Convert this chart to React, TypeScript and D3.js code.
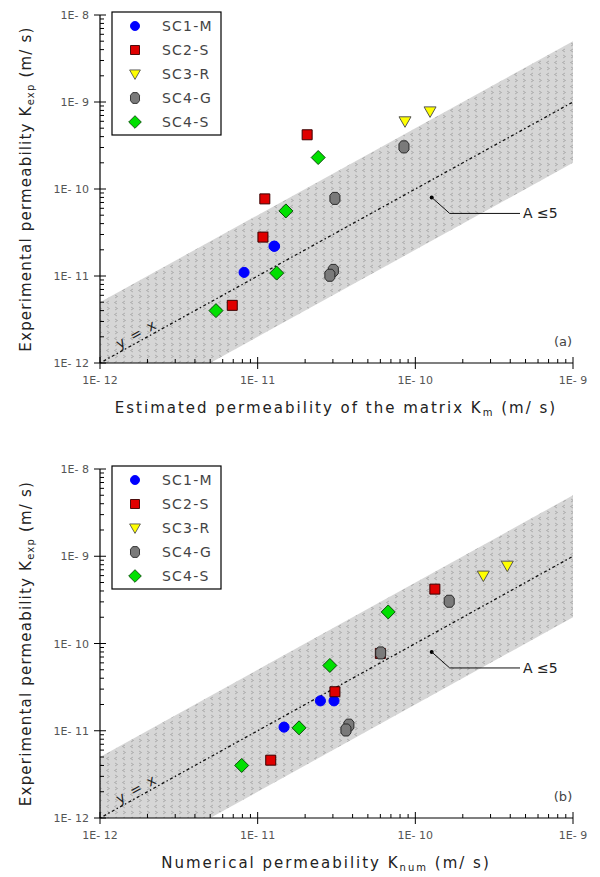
import React from "react";
import * as d3 from "d3";

const seriesNames = ["SC1-M", "SC2-S", "SC3-R", "SC4-G", "SC4-S"];
const seriesFill = ["#0000ff", "#e00000", "#ffff00", "#7a7a7a", "#00e000"];
const seriesStroke = ["#0000ff", "#3a0000", "#555555", "#2a2a2a", "#0a4a0a"];

// experimental K (same in both panels), matrix estimate (a), numerical (b)
const sc1mExp = [2.2e-11, 2.2e-11, 1.1e-11];
const sc1mMat = [1.27e-11, 1.28e-11, 8.2e-12];
const sc1mNum = [2.5e-11, 3.05e-11, 1.47e-11];

const sc2sExp = [4.2e-10, 7.7e-11, 2.8e-11, 4.6e-12];
const sc2sMat = [2.06e-11, 1.11e-11, 1.08e-11, 6.9e-12];
const sc2sNum = [1.33e-10, 6.0e-11, 3.09e-11, 1.21e-11];

const sc3rExp = [6.0e-10, 7.8e-10];
const sc3rMat = [8.6e-11, 1.24e-10];
const sc3rNum = [2.7e-10, 3.83e-10];

const sc4gExp = [3.05e-10, 7.8e-11, 1.16e-11, 1.02e-11];
const sc4gMat = [8.47e-11, 3.09e-11, 3.02e-11, 2.87e-11];
const sc4gNum = [1.64e-10, 6.03e-11, 3.79e-11, 3.63e-11];

const sc4sExp = [2.3e-10, 5.6e-11, 1.08e-11, 4.0e-12];
const sc4sMat = [2.42e-11, 1.51e-11, 1.32e-11, 5.44e-12];
const sc4sNum = [6.73e-11, 2.87e-11, 1.83e-11, 7.92e-12];

const expAll = [sc1mExp, sc2sExp, sc3rExp, sc4gExp, sc4sExp];
const matAll = [sc1mMat, sc2sMat, sc3rMat, sc4gMat, sc4sMat];
const numAll = [sc1mNum, sc2sNum, sc3rNum, sc4gNum, sc4sNum];

const xTickLabels = ["1E- 12", "1E- 11", "1E- 10", "1E- 9"];
const yTickLabels = ["1E- 12", "1E- 11", "1E- 10", "1E- 9", "1E- 8"];

const bandFactor = 5; // A <= 5
const annotPoint = [1.27e-10, 8.0e-11];

const FONT = "'DejaVu Sans', Verdana, sans-serif";

const markerPath = (i: number) => {
  if (i === 0) return d3.symbol(d3.symbolCircle, 80)();
  if (i === 1) return d3.symbol(d3.symbolSquare, 100)();
  if (i === 2) return "M-6,-4.5L6,-4.5L0,6Z";
  if (i === 3) return "M-2.5,-6L2.5,-6L5,-3L5,3L2.5,6L-2.5,6L-5,3L-5,-3Z";
  return "M0,-7L7,0L0,7L-7,0Z";
};

function Panel({ yTop, yBottom, xVals, title, sub, letter, titleX }) {
  const x = d3.scaleLog().domain([1e-12, 1e-9]).range([100, 573]);
  const y = d3.scaleLog().domain([1e-12, 1e-8]).range([yBottom, yTop]);
  const clipId = "clip" + letter;

  const line = d3
    .line<number>()
    .x((d) => x(d))
    .y((d) => y(d));
  const area = d3
    .area<number>()
    .x((d) => x(d))
    .y0((d) => y(d / bandFactor))
    .y1((d) => y(d * bandFactor));
  const ends = x.domain();

  const xTicks = x.ticks();
  const yTicks = y.ticks();
  const isMajor = (v: number) => Math.abs(Math.log10(v) - Math.round(Math.log10(v))) < 1e-6;

  const angle = (Math.atan2(y(1e-9) - y(1e-12), x(1e-9) - x(1e-12)) * 180) / Math.PI;
  const lblX = x(1.8e-12);
  const lblY = y(1.8e-12);

  const ax = x(annotPoint[0]);
  const ay = y(annotPoint[1]);

  return (
    <g fontFamily={FONT}>
      <defs>
        <clipPath id={clipId}>
          <rect x={100} y={yTop - 30} width={473} height={yBottom - yTop + 30} />
        </clipPath>
      </defs>

      <g clipPath={`url(#${clipId})`}>
        <path d={area(ends)} fill="url(#chev)" />
        <path
          d={line(ends)}
          fill="none"
          stroke="#111"
          strokeWidth={1.3}
          strokeDasharray="1.5,2.5,3,2.5"
        />
      </g>

      <text
        transform={`translate(${lblX},${lblY}) rotate(${angle})`}
        textAnchor="middle"
        dy={-3}
        fontSize={14}
        fill="#222"
        letterSpacing={1.5}
      >
        y = x
      </text>

      {/* annotation */}
      <circle cx={ax} cy={ay} r={2} fill="#000" />
      <path
        d={`M${ax},${ay}L${ax + 18},${ay + 16}L520,${ay + 16}`}
        fill="none"
        stroke="#111"
        strokeWidth={1}
      />
      <text x={523} y={ay + 21} fontSize={14} fill="#222">
        A ≤5
      </text>

      {/* data */}
      {seriesNames.map((s, i) =>
        expAll[i].map((v, j) => (
          <path
            key={s + j}
            d={markerPath(i)}
            transform={`translate(${x(xVals[i][j])},${y(v)})`}
            fill={seriesFill[i]}
            stroke={seriesStroke[i]}
            strokeWidth={1}
          />
        ))
      )}

      {/* axes */}
      <line x1={100} x2={100} y1={yTop} y2={yBottom} stroke="#000" strokeWidth={1.2} />
      <line x1={100} x2={573} y1={yBottom} y2={yBottom} stroke="#000" strokeWidth={1.2} />
      {yTicks.map((t, i) =>
        isMajor(t) ? (
          <line key={"y" + i} x1={94} x2={106} y1={y(t)} y2={y(t)} stroke="#000" />
        ) : (
          <line key={"y" + i} x1={100} x2={104} y1={y(t)} y2={y(t)} stroke="#000" />
        )
      )}
      {xTicks.map((t, i) =>
        isMajor(t) ? (
          <line key={"x" + i} x1={x(t)} x2={x(t)} y1={yBottom - 6} y2={yBottom + 6} stroke="#000" />
        ) : (
          <line key={"x" + i} x1={x(t)} x2={x(t)} y1={yBottom} y2={yBottom - 4} stroke="#000" />
        )
      )}
      {yTicks.filter(isMajor).map((t, i) => (
        <text key={"yl" + i} x={89} y={y(t) + 4} textAnchor="end" fontSize={11} fill="#555">
          {yTickLabels[i]}
        </text>
      ))}
      {xTicks.filter(isMajor).map((t, i) => (
        <text key={"xl" + i} x={x(t)} y={yBottom + 21} textAnchor="middle" fontSize={11} fill="#555">
          {xTickLabels[i]}
        </text>
      ))}

      {/* axis titles */}
      <text
        transform={`translate(31,${(yTop + yBottom) / 2}) rotate(-90)`}
        textAnchor="middle"
        fontSize={15}
        fill="#222"
        letterSpacing={1.2}
      >
        Experimental permeability K
        <tspan fontSize={10} dy={3}>exp</tspan>
        <tspan dy={-3}> (m/ s)</tspan>
      </text>
      <text x={titleX} y={yBottom + 50} textAnchor="middle" fontSize={15} fill="#222" letterSpacing={2}>
        {title}
        <tspan fontSize={10} dy={3}>{sub}</tspan>
        <tspan dy={-3}> (m/ s)</tspan>
      </text>

      <text x={563} y={yBottom - 17} textAnchor="middle" fontSize={13} fill="#444">
        ({letter})
      </text>

      {/* legend */}
      <rect x={112} y={yTop - 3} width={109} height={123} fill="#fff" stroke="#000" strokeWidth={1.2} />
      {seriesNames.map((s, i) => (
        <g key={s} transform={`translate(0,${yTop + 11 + i * 24})`}>
          <path
            d={markerPath(i)}
            transform="translate(135,0) scale(0.9)"
            fill={seriesFill[i]}
            stroke={seriesStroke[i]}
            strokeWidth={1}
          />
          <text x={162} y={5} fontSize={14} fill="#444" letterSpacing={1.2}>
            {s}
          </text>
        </g>
      ))}
    </g>
  );
}

export default function App() {
  return (
    <svg
      width={600}
      height={877}
      style={{ position: "absolute", left: 0, top: 0, background: "#fff" }}
    >
      <defs>
        <pattern id="chev" width={8} height={12} patternUnits="userSpaceOnUse">
          <rect width={8} height={12} fill="#d6d6d6" />
          <path d="M5,1L2.5,2.5L5,4M3,7L5.5,8.5L3,10" fill="none" stroke="#9a9a9a" strokeWidth={0.7} />
        </pattern>
      </defs>
      <rect width={600} height={877} fill="#fff" />
      <Panel
        yTop={15}
        yBottom={363}
        xVals={matAll}
        title="Estimated permeability of the matrix K"
        sub="m"
        letter="a"
        titleX={336}
      />
      <Panel
        yTop={469}
        yBottom={818}
        xVals={numAll}
        title="Numerical permeability K"
        sub="num"
        letter="b"
        titleX={326}
      />
    </svg>
  );
}
